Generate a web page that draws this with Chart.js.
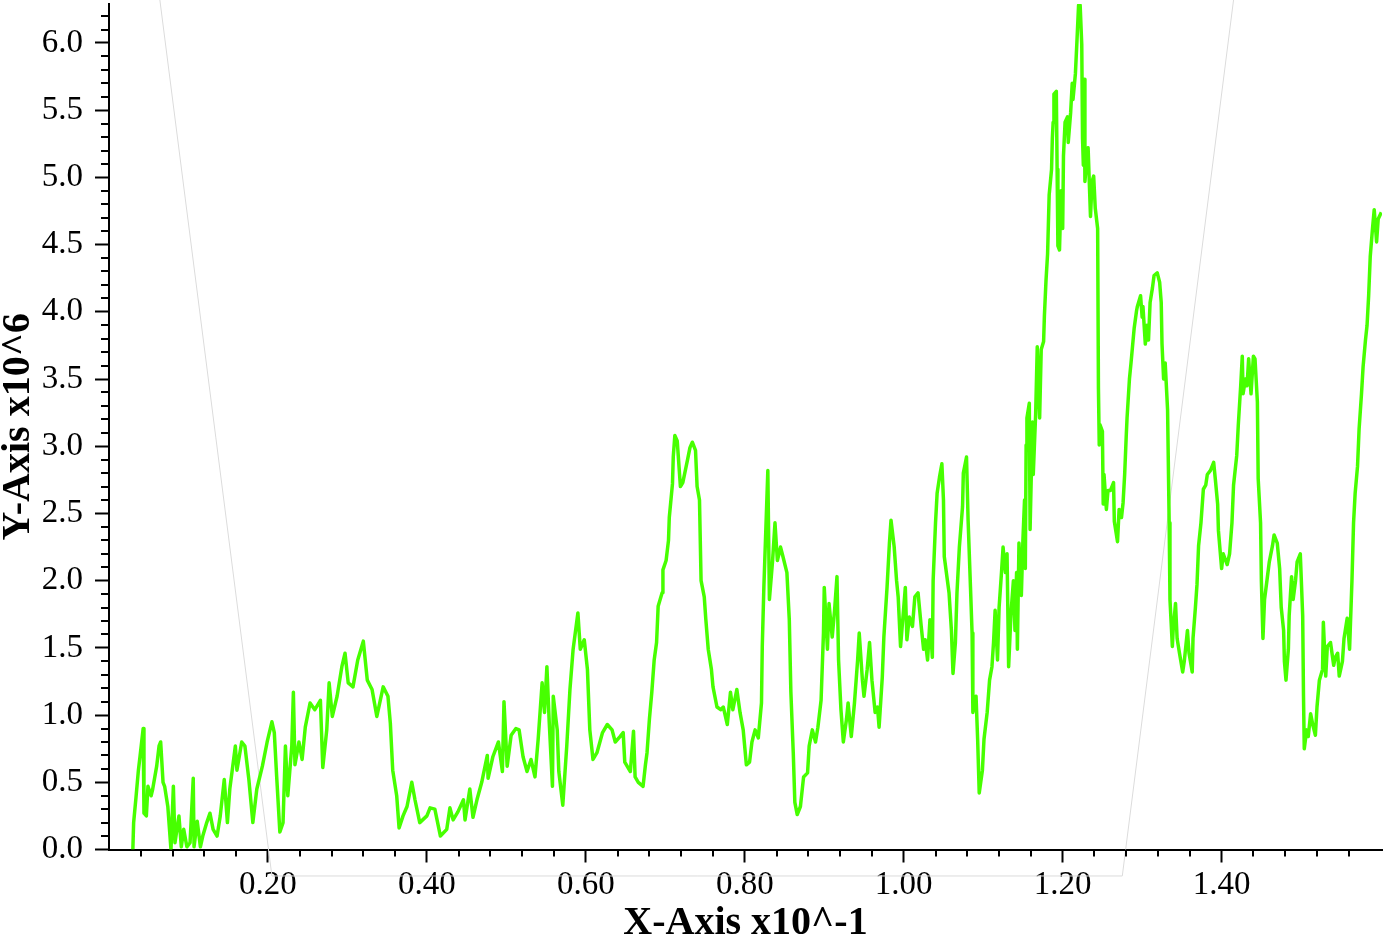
<!DOCTYPE html>
<html>
<head>
<meta charset="utf-8">
<title>Y-Axis x10^6 vs X-Axis x10^-1</title>
<script src="https://cdn.jsdelivr.net/npm/chart.js@4.4.1/dist/chart.umd.min.js"></script>
<style>
    html, body { margin: 0; padding: 0; background: #fff; }
    #wrap { position: relative; width: 1392px; height: 939px; }
</style>
</head>
<body>
<div id="wrap"><canvas id="chart"></canvas></div>
<script>
// series (x in units of 10^-1, y in units of 10^6)
var xs = [
    0.030,0.031,0.034,0.037,0.039,0.043,0.044,0.047,0.049,0.053,
    0.055,0.060,0.063,0.065,0.068,0.070,0.074,0.078,0.081,0.083,
    0.088,0.091,0.094,0.098,0.102,0.106,0.107,0.111,0.115,0.118,
    0.123,0.127,0.131,0.136,0.140,0.145,0.149,0.152,0.159,0.161,
    0.167,0.171,0.176,0.181,0.186,0.193,0.199,0.205,0.208,0.211,
    0.215,0.219,0.222,0.225,0.230,0.232,0.234,0.239,0.243,0.247,
    0.253,0.259,0.266,0.269,0.274,0.277,0.281,0.287,0.293,0.297,
    0.301,0.307,0.313,0.320,0.325,0.331,0.337,0.345,0.351,0.354,
    0.357,0.362,0.365,0.370,0.375,0.381,0.385,0.391,0.400,0.404,
    0.410,0.417,0.425,0.429,0.433,0.439,0.446,0.448,0.454,0.458,
    0.463,0.469,0.476,0.477,0.483,0.490,0.495,0.497,0.501,0.506,
    0.512,0.516,0.521,0.526,0.531,0.536,0.540,0.545,0.548,0.551,
    0.554,0.558,0.559,0.564,0.566,0.571,0.576,0.580,0.584,0.590,
    0.593,0.598,0.602,0.605,0.609,0.614,0.621,0.627,0.633,0.637,
    0.643,0.647,0.649,0.656,0.660,0.662,0.666,0.672,0.675,0.677,
    0.680,0.683,0.686,0.689,0.691,0.696,0.697,0.701,0.704,0.705,
    0.709,0.710,0.712,0.715,0.719,0.722,0.728,0.731,0.734,0.738,
    0.740,0.743,0.745,0.749,0.751,0.754,0.758,0.760,0.765,0.770,
    0.773,0.778,0.782,0.785,0.790,0.794,0.798,0.802,0.806,0.809,
    0.813,0.817,0.821,0.822,0.824,0.827,0.829,0.831,0.835,0.838,
    0.841,0.845,0.848,0.853,0.856,0.858,0.861,0.863,0.866,0.870,
    0.874,0.879,0.881,0.885,0.889,0.892,0.896,0.899,0.900,0.904,
    0.906,0.910,0.913,0.916,0.918,0.921,0.924,0.928,0.930,0.934,
    0.938,0.942,0.944,0.948,0.950,0.954,0.957,0.960,0.964,0.967,
    0.969,0.973,0.975,0.979,0.982,0.984,0.988,0.991,0.993,0.996,
    1.000,1.002,1.004,1.007,1.011,1.014,1.018,1.022,1.025,1.027,
    1.030,1.033,1.036,1.037,1.040,1.042,1.045,1.048,1.050,1.051,
    1.055,1.057,1.060,1.062,1.065,1.067,1.070,1.074,1.075,1.079,
    1.081,1.084,1.086,1.087,1.091,1.093,1.095,1.099,1.101,1.105,
    1.108,1.111,1.113,1.115,1.118,1.120,1.123,1.125,1.128,1.130,
    1.132,1.135,1.138,1.140,1.142,1.143,1.145,1.148,1.150,1.152,
    1.153,1.154,1.155,1.158,1.159,1.162,1.163,1.166,1.168,1.171,
    1.173,1.176,1.177,1.179,1.181,1.182,1.183,1.186,1.187,1.188,
    1.189,1.192,1.193,1.194,1.196,1.198,1.200,1.201,1.203,1.206,
    1.207,1.210,1.212,1.213,1.216,1.218,1.220,1.222,1.224,1.225,
    1.226,1.227,1.228,1.231,1.232,1.235,1.237,1.239,1.241,1.244,
    1.245,1.246,1.247,1.250,1.251,1.252,1.255,1.257,1.260,1.264,
    1.265,1.269,1.271,1.274,1.276,1.278,1.280,1.281,1.284,1.286,
    1.288,1.290,1.293,1.294,1.298,1.300,1.301,1.304,1.306,1.308,
    1.310,1.313,1.315,1.319,1.322,1.324,1.325,1.327,1.329,1.332,
    1.333,1.334,1.335,1.338,1.339,1.342,1.344,1.347,1.351,1.353,
    1.357,1.359,1.363,1.364,1.367,1.369,1.371,1.374,1.377,1.380,
    1.382,1.386,1.390,1.392,1.395,1.396,1.400,1.402,1.407,1.410,
    1.413,1.415,1.419,1.421,1.424,1.426,1.427,1.430,1.432,1.434,
    1.437,1.440,1.442,1.445,1.446,1.449,1.450,1.452,1.454,1.457,
    1.460,1.464,1.466,1.470,1.473,1.475,1.478,1.479,1.481,1.484,
    1.485,1.488,1.490,1.493,1.495,1.499,1.502,1.503,1.504,1.507,
    1.509,1.512,1.515,1.518,1.520,1.523,1.527,1.528,1.531,1.533,
    1.537,1.541,1.543,1.546,1.548,1.552,1.554,1.558,1.561,1.564,
    1.566,1.568,1.571,1.573,1.576,1.578,1.581,1.583,1.585,1.587,
    1.590,1.592,1.595,1.597,1.601
];
var ys = [
    0,0.2,0.39,0.59,0.69,0.9,0.27,0.25,0.47,0.4,
    0.45,0.62,0.77,0.8,0.5,0.47,0.32,0,0.47,0.05,
    0.25,0.02,0.15,0.02,0.05,0.53,0.02,0.21,0.02,0.1,
    0.2,0.27,0.15,0.1,0.25,0.52,0.2,0.45,0.77,0.59,
    0.8,0.77,0.52,0.2,0.45,0.62,0.8,0.95,0.87,0.54,
    0.13,0.2,0.77,0.4,0.77,1.17,0.63,0.8,0.67,0.91,
    1.09,1.04,1.11,0.61,0.89,1.24,0.99,1.14,1.36,1.46,
    1.24,1.21,1.41,1.55,1.26,1.19,0.99,1.21,1.14,0.94,
    0.59,0.4,0.16,0.25,0.32,0.5,0.37,0.2,0.25,0.31,
    0.3,0.1,0.15,0.31,0.22,0.28,0.37,0.22,0.45,0.24,
    0.37,0.5,0.7,0.53,0.69,0.8,0.58,1.1,0.62,0.85,
    0.9,0.89,0.69,0.58,0.67,0.54,0.82,1.24,1.02,1.36,
    0.94,0.47,1.14,0.89,0.58,0.33,0.77,1.19,1.49,1.76,
    1.49,1.56,1.34,0.89,0.67,0.72,0.87,0.93,0.89,0.8,
    0.84,0.87,0.65,0.58,0.88,0.54,0.5,0.47,0.63,0.72,
    0.97,1.17,1.41,1.54,1.81,1.91,2.08,2.15,2.3,2.47,
    2.72,2.92,3.08,3.04,2.7,2.73,2.9,2.99,3.03,2.97,
    2.7,2.6,2.0,1.88,1.71,1.49,1.34,1.21,1.06,1.04,
    1.06,0.93,1.17,1.04,1.19,1.02,0.89,0.63,0.65,0.8,
    0.89,0.83,1.09,1.51,1.95,2.47,2.82,1.86,2.15,2.43,
    2.15,2.25,2.18,2.06,1.71,1.17,0.72,0.35,0.26,0.32,
    0.54,0.57,0.77,0.89,0.8,0.91,1.11,1.61,1.95,1.49,
    1.83,1.58,1.78,2.03,1.41,1.04,0.8,0.97,1.09,0.84,
    1.09,1.41,1.61,1.26,1.14,1.34,1.54,1.26,1.02,1.06,
    0.91,1.28,1.58,1.95,2.28,2.45,2.25,2.0,1.88,1.51,
    1.8,1.95,1.56,1.73,1.66,1.88,1.91,1.66,1.49,1.56,
    1.41,1.71,1.43,2.0,2.43,2.65,2.77,2.87,2.6,2.18,
    2.0,1.91,1.63,1.31,1.54,1.91,2.25,2.55,2.8,2.92,
    2.45,1.95,1.61,1.02,1.14,0.82,0.42,0.59,0.82,1.02,
    1.26,1.36,1.54,1.78,1.41,1.8,2.06,2.25,2.06,2.2,
    1.36,1.76,2.0,1.63,2.06,1.49,2.28,1.89,2.31,2.6,
    2.09,3.01,3.21,3.32,2.38,3.18,2.79,3.24,3.74,3.21,
    3.72,3.78,3.97,4.23,4.43,4.65,4.87,5.06,5.29,5.41,
    5.62,5.64,5.06,4.49,4.46,4.9,4.62,5.16,5.41,5.45,
    5.26,5.48,5.7,5.58,5.77,6.02,6.28,6.28,5.99,5.29,
    5.09,5.73,4.97,5.19,5.22,4.71,4.97,5.01,4.77,4.62,
    3.43,3.01,3.16,3.11,2.57,2.79,2.53,2.67,2.67,2.73,
    2.44,2.29,2.53,2.47,2.58,2.79,3.08,3.21,3.5,3.62,
    3.75,3.88,4.01,4.04,4.12,3.96,4.04,3.76,3.9,3.79,
    4.07,4.18,4.27,4.29,4.22,4.07,3.76,3.5,3.62,3.27,
    2.85,2.43,1.86,1.51,1.63,1.83,1.57,1.46,1.32,1.4,
    1.63,1.46,1.32,1.57,1.8,1.97,2.26,2.43,2.68,2.71,
    2.79,2.82,2.88,2.76,2.57,2.37,2.09,2.2,2.12,2.2,
    2.43,2.71,2.93,3.16,3.45,3.67,3.39,3.5,3.45,3.65,
    3.39,3.67,3.65,3.33,2.76,2.43,2.0,1.57,1.86,2.0,
    2.14,2.26,2.34,2.28,2.09,1.8,1.63,1.4,1.26,1.49,
    1.74,2.03,1.86,2.0,2.14,2.2,1.74,1.15,0.75,0.89,
    0.84,1.01,0.92,0.85,1.06,1.26,1.34,1.69,1.29,1.51,
    1.54,1.37,1.43,1.46,1.29,1.4,1.57,1.72,1.49,2.0,
    2.43,2.65,2.85,3.13,3.39,3.59,3.79,3.9,4.12,4.41,
    4.63,4.76,4.52,4.69,4.74
];
// faint grey outline seen behind the curve, in data units
var outlineX = [0.064, 0.205, 1.275, 1.415];
var outlineY = [6.32, -0.197, -0.197, 6.32];

var xMax = 1.6018, yMax = 6.29;
var xStep = 0.04, xMajor = 0.2;
var yStep = 0.1, yMajor = 0.5;
var serif = '"Liberation Serif", "Times New Roman", Times, serif';

function isMajor(v, step) {
    var r = v / step;
    return Math.abs(r - Math.round(r)) < 1e-6;
}
function showX(v) {
    return isMajor(v, xMajor) && v > 0.01 && v < 1.59;
}

var points = [];
for (var i = 0; i < xs.length; i++) {
    points.push({ x: xs[i], y: ys[i] });
}
var outline = [];
for (var j = 0; j < outlineX.length; j++) {
    outline.push({ x: outlineX[j], y: outlineY[j] });
}

// short minor ticks, drawn from the scales' own tick list
var minorTicks = {
    id: 'minorTicks',
    afterDraw: function (chart) {
        var ctx = chart.ctx, area = chart.chartArea;
        var sx = chart.scales.x, sy = chart.scales.y;
        ctx.save();
        ctx.strokeStyle = '#000';
        ctx.lineWidth = 2;
        ctx.beginPath();
        sy.ticks.forEach(function (t) {
            if (isMajor(t.value, yMajor)) return;
            var p = Math.round(sy.getPixelForValue(t.value));
            ctx.moveTo(area.left - 8, p);
            ctx.lineTo(area.left, p);
        });
        sx.ticks.forEach(function (t) {
            if (isMajor(t.value, xMajor)) return;
            var p = Math.round(sx.getPixelForValue(t.value));
            ctx.moveTo(p, area.bottom);
            ctx.lineTo(p, area.bottom + 7);
        });
        ctx.stroke();
        ctx.restore();
    }
};

new Chart(document.getElementById('chart'), {
    type: 'line',
    data: {
        datasets: [
            {
                data: points,
                borderColor: '#47ff00',
                borderWidth: 3.5,
                borderJoinStyle: 'round',
                pointRadius: 0,
                tension: 0,
                fill: false,
                order: 0
            },
            {
                data: outline,
                borderColor: '#dcdcdc',
                borderWidth: 1,
                pointRadius: 0,
                tension: 0,
                fill: false,
                clip: false,
                order: 1
            }
        ]
    },
    options: {
        responsive: true,
        maintainAspectRatio: false,
        devicePixelRatio: 1,
        animation: false,
        events: [],
        layout: { padding: { top: 4, right: 10, left: 0, bottom: 0 } },
        plugins: { legend: { display: false }, tooltip: { enabled: false } },
        scales: {
            x: {
                type: 'linear',
                min: 0,
                max: xMax,
                z: 1,
                border: { color: '#000', width: 2 },
                grid: {
                    drawOnChartArea: false,
                    tickLength: 13,
                    tickWidth: 2,
                    tickColor: function (c) {
                        return c.tick && showX(c.tick.value) ? '#000' : 'rgba(0,0,0,0)';
                    }
                },
                ticks: {
                    stepSize: xStep,
                    autoSkip: false,
                    maxRotation: 0,
                    includeBounds: false,
                    padding: 6,
                    color: '#000',
                    font: { family: serif, size: 33, lineHeight: 1 },
                    showLabelBackdrop: true,
                    backdropColor: '#fff',
                    backdropPadding: 0,
                    callback: function (v) { return showX(v) ? v.toFixed(2) : ''; }
                },
                title: {
                    display: true,
                    text: 'X-Axis x10^-1',
                    color: '#000',
                    padding: 0,
                    font: { family: serif, size: 40, weight: 'bold', lineHeight: '31px' }
                },
                afterFit: function (s) { s.height = 89.5; s.paddingLeft = 0; s.paddingRight = 0; }
            },
            y: {
                min: 0,
                max: yMax,
                z: 1,
                border: { color: '#000', width: 2 },
                grid: {
                    drawOnChartArea: false,
                    tickLength: 14,
                    tickWidth: 2,
                    tickColor: function (c) {
                        return c.tick && isMajor(c.tick.value, yMajor) ? '#000' : 'rgba(0,0,0,0)';
                    }
                },
                ticks: {
                    stepSize: yStep,
                    autoSkip: false,
                    includeBounds: false,
                    padding: 12,
                    color: '#000',
                    font: { family: serif, size: 33, lineHeight: 1 },
                    callback: function (v) { return isMajor(v, yMajor) ? v.toFixed(1) : ''; }
                },
                title: {
                    display: true,
                    text: 'Y-Axis x10^6',
                    color: '#000',
                    padding: 0,
                    font: { family: serif, size: 40, weight: 'bold', lineHeight: '37px' }
                },
                afterFit: function (s) { s.width = 109; s.paddingTop = 0; s.paddingBottom = 0; }
            }
        }
    },
    plugins: [minorTicks]
});
</script>
</body>
</html>
